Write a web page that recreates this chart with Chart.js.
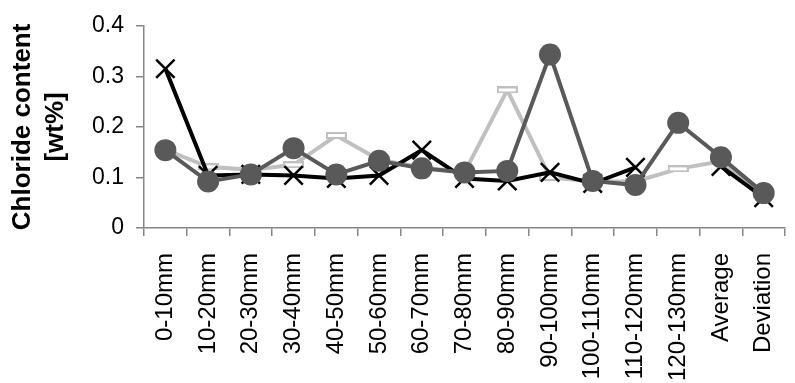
<!DOCTYPE html>
<html>
<head>
<meta charset="utf-8">
<script src="https://cdn.jsdelivr.net/npm/chart.js@4/dist/chart.umd.min.js"></script>
<style>
  html, body { margin: 0; padding: 0; background: #fff; overflow: hidden; }
  #wrap { position: relative; width: 810px; height: 383px; }
</style>
</head>
<body>
<div id="wrap"><canvas id="grafico"></canvas></div>
<script>
// Categorias (profundidade) e valores
const categorias = ['0-10mm', '10-20mm', '20-30mm', '30-40mm', '40-50mm', '50-60mm', '60-70mm',
  '70-80mm', '80-90mm', '90-100mm', '100-110mm', '110-120mm', '120-130mm', 'Average', 'Deviation'];
const serieX = [0.315, 0.104, 0.106, 0.104, 0.098, 0.104, 0.154, 0.098, 0.093, 0.110, 0.088, 0.120, null, 0.122, 0.060];
const serieTraco = [0.155, 0.121, 0.115, 0.125, 0.183, 0.135, 0.120, 0.110, 0.273, 0.100, 0.092, 0.092, 0.117, 0.132, 0.066];
const serieCirculo = [0.154, 0.092, 0.106, 0.158, 0.106, 0.133, 0.118, 0.110, 0.113, 0.343, 0.093, 0.085, 0.208, 0.140, 0.069];
const ticksY = [0, 0.1, 0.2, 0.3, 0.4];

// Marcador em forma de traço (retângulo vazado) para a série cinza clara
const marcador = document.createElement('canvas');
marcador.width = 21;
marcador.height = 7;
const mctx = marcador.getContext('2d');
mctx.fillStyle = '#ffffff';
mctx.fillRect(1, 1, 19, 5);
mctx.strokeStyle = '#c0c0c0';
mctx.lineWidth = 2;
mctx.strokeRect(1, 1, 19, 5);

const corEixo = '#868686';

const ctx = document.getElementById('grafico').getContext('2d');
new Chart(ctx, {
  type: 'line',
  data: {
    labels: categorias,
    datasets: [
      {
        data: serieCirculo,
        borderColor: '#595959',
        backgroundColor: '#595959',
        borderWidth: 4,
        pointStyle: 'circle',
        pointRadius: 11,
        pointBorderWidth: 0,
        order: 0
      },
      {
        data: serieX,
        borderColor: '#000000',
        backgroundColor: '#000000',
        borderWidth: 4,
        pointStyle: 'crossRot',
        pointRadius: 13,
        pointBorderWidth: 2.5,
        spanGaps: false,
        order: 1
      },
      {
        data: serieTraco,
        borderColor: '#c0c0c0',
        backgroundColor: '#c0c0c0',
        borderWidth: 4,
        pointStyle: marcador,
        order: 2
      }
    ]
  },
  options: {
    responsive: true,
    maintainAspectRatio: false,
    animation: false,
    layout: { padding: { top: 20, left: 0, right: 0, bottom: 0 } },
    plugins: {
      legend: { display: false },
      tooltip: { enabled: false }
    },
    elements: { line: { tension: 0 } },
    scales: {
      x: {
        offset: true,
        grid: {
          offset: true,
          drawOnChartArea: false,
          drawTicks: true,
          tickLength: 8,
          color: corEixo,
          lineWidth: 1.5
        },
        border: { color: corEixo, width: 1.5 },
        ticks: {
          autoSkip: false,
          maxRotation: 90,
          minRotation: 90,
          padding: 17,
          color: '#000',
          font: { family: 'Liberation Sans', size: 24 }
        },
        afterFit: function(scale) { scale.height = 155; }
      },
      y: {
        min: 0,
        max: 0.4,
        afterBuildTicks: function(scale) {
          scale.ticks = ticksY.map(v => ({ value: v }));
        },
        grid: {
          drawOnChartArea: false,
          drawTicks: true,
          tickLength: 8,
          color: corEixo,
          lineWidth: 1.5
        },
        border: { color: corEixo, width: 1.5 },
        ticks: {
          padding: 12,
          color: '#000',
          font: { family: 'Liberation Sans', size: 23 },
          callback: function(v) { return String(v); }
        },
        title: {
          display: true,
          text: ['Chloride content', '[wt%]'],
          color: '#000',
          padding: { top: 7, bottom: 0 },
          font: { family: 'Liberation Sans', size: 26, weight: 'bold', lineHeight: 1.25 }
        },
        afterFit: function(scale) { scale.width = 144; }
      }
    }
  }
});
</script>
</body>
</html>
